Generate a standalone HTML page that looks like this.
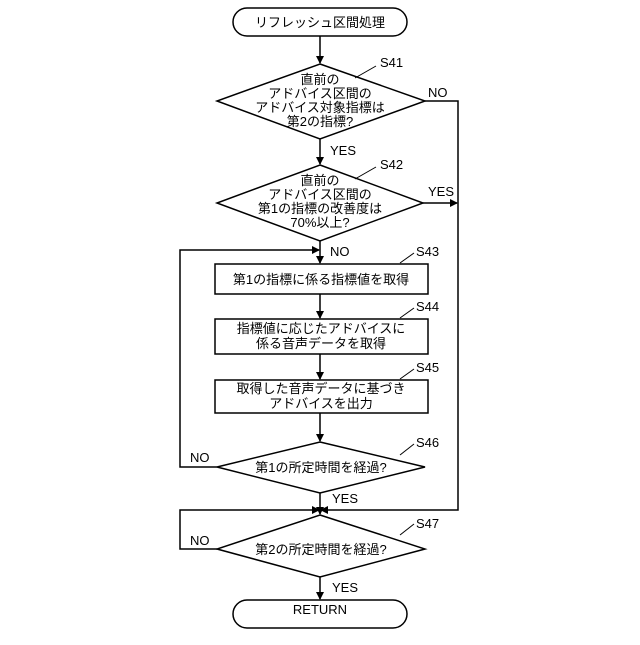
<!DOCTYPE html>
<html><head><meta charset="utf-8"><style>body{margin:0;background:#fff}</style></head><body>
<svg width="640" height="640" viewBox="0 0 640 640" xmlns="http://www.w3.org/2000/svg" font-family="'Liberation Sans','Noto Sans CJK JP',sans-serif" font-size="13" fill="none" stroke="#000" stroke-width="1.5">
<defs><marker id="a" markerWidth="8" markerHeight="8" refX="7" refY="4" orient="auto" markerUnits="userSpaceOnUse"><path d="M0,0L8,4L0,8z" fill="#000" stroke="none"/></marker></defs>
<rect x="233" y="8" width="174" height="28" rx="14"/>
<rect x="233" y="600" width="174" height="28" rx="14"/>
<polygon points="320,64 425,101 320,139 217,101"/>
<polygon points="320,165 423,203 320,241 217,203"/>
<rect x="215" y="264" width="213" height="30"/>
<rect x="215" y="319" width="213" height="35"/>
<rect x="215" y="380" width="213" height="33"/>
<polygon points="320,442 425,467 320,493 217,467"/>
<polygon points="320,515 425,549 320,577 217,549"/>
<g marker-end="url(#a)">
<line x1="320" y1="36" x2="320" y2="63"/>
<line x1="320" y1="139" x2="320" y2="164"/>
<line x1="320" y1="241" x2="320" y2="263"/>
<line x1="320" y1="294" x2="320" y2="318"/>
<line x1="320" y1="354" x2="320" y2="379"/>
<line x1="320" y1="413" x2="320" y2="441"/>
<line x1="320" y1="493" x2="320" y2="514"/>
<line x1="320" y1="577" x2="320" y2="599"/>
<line x1="423" y1="203" x2="457" y2="203"/>
<polyline points="425,101 458,101 458,510 321,510"/>
<polyline points="217,467 180,467 180,250 319,250"/>
<polyline points="217,549 180,549 180,510 319,510"/>
</g>
<g stroke-width="1"><line x1="355" y1="78" x2="376" y2="66"/><line x1="355" y1="179" x2="376" y2="167"/><line x1="400" y1="263" x2="414" y2="253"/><line x1="400" y1="318" x2="414" y2="308"/><line x1="400" y1="379" x2="414" y2="369"/><line x1="400" y1="455" x2="414" y2="444"/><line x1="400" y1="535" x2="414" y2="524"/></g>
<g fill="#000" stroke="none" text-anchor="middle">
<text x="320" y="27">リフレッシュ区間処理</text>
<text x="320" y="614">RETURN</text>
<text x="320" y="84">直前の</text><text x="320" y="98">アドバイス区間の</text><text x="320" y="112">アドバイス対象指標は</text><text x="320" y="126">第2の指標?</text>
<text x="320" y="185">直前の</text><text x="320" y="199">アドバイス区間の</text><text x="320" y="213">第1の指標の改善度は</text><text x="320" y="227">70%以上?</text>
<text x="321" y="284">第1の指標に係る指標値を取得</text>
<text x="321" y="333">指標値に応じたアドバイスに</text><text x="321" y="348">係る音声データを取得</text>
<text x="321" y="393">取得した音声データに基づき</text><text x="321" y="408">アドバイスを出力</text>
<text x="321" y="472">第1の所定時間を経過?</text>
<text x="321" y="554">第2の所定時間を経過?</text>
</g>
<g fill="#000" stroke="none">
<text x="380" y="67">S41</text><text x="380" y="169">S42</text><text x="416" y="256">S43</text><text x="416" y="311">S44</text><text x="416" y="372">S45</text><text x="416" y="447">S46</text><text x="416" y="528">S47</text>
<text x="428" y="97">NO</text><text x="428" y="196">YES</text><text x="330" y="155">YES</text><text x="330" y="256">NO</text>
<text x="190" y="462">NO</text><text x="332" y="503">YES</text><text x="190" y="545">NO</text><text x="332" y="592">YES</text>
</g>
</svg>
</body></html>
